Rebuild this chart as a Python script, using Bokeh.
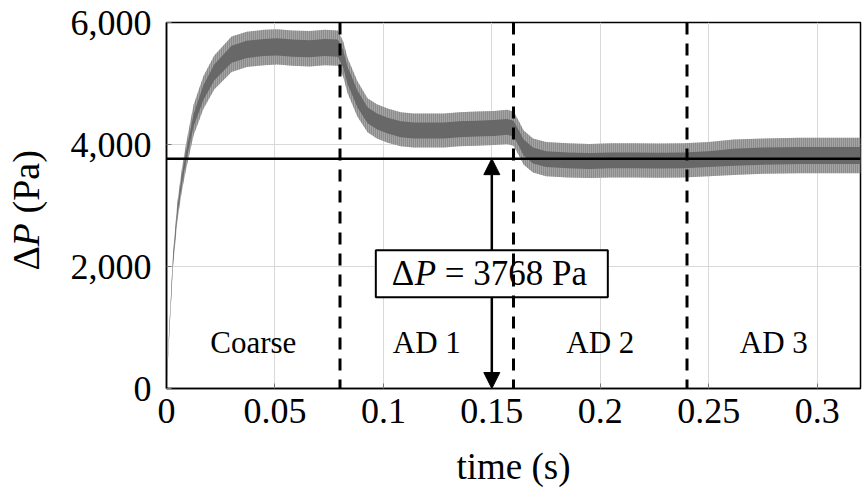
import math

from bokeh.core.properties import value
from bokeh.embed import file_html
from bokeh.layouts import row
from bokeh.models import Arrow, FixedTicker, NormalHead, NumeralTickFormatter, Span
from bokeh.plotting import figure
from bokeh.resources import INLINE

# Pressure drop trace (Pa): time samples, the dense core of the noisy signal
# and the reach of its spikes
time_s = [0.000, 0.001, 0.003, 0.005, 0.007, 0.009, 0.0125, 0.017, 0.022, 0.030,
          0.037, 0.045, 0.051, 0.058, 0.066, 0.073, 0.079, 0.0815, 0.0835, 0.088,
          0.0927, 0.097, 0.102, 0.108, 0.114, 0.121, 0.128, 0.135, 0.143, 0.151,
          0.157, 0.160, 0.1625, 0.1647, 0.169, 0.175, 0.185, 0.195, 0.205, 0.2155,
          0.227, 0.2385, 0.250, 0.2615, 0.275, 0.292, 0.305, 0.320]
core_lower = [0, 730, 2060, 2850, 3330, 3720, 4300, 4730, 5050, 5340,
              5420, 5450, 5460, 5440, 5430, 5450, 5440, 5260, 4990, 4610,
              4350, 4250, 4180, 4120, 4100, 4100, 4100, 4120, 4130, 4140,
              4160, 4130, 3970, 3820, 3690, 3630, 3610, 3600, 3610, 3610,
              3605, 3610, 3630, 3650, 3670, 3680, 3680, 3680]
core_upper = [0, 770, 2140, 2950, 3470, 3880, 4500, 4970, 5310, 5620,
              5700, 5730, 5740, 5720, 5710, 5730, 5720, 5540, 5270, 4890,
              4610, 4510, 4440, 4380, 4360, 4360, 4360, 4380, 4390, 4400,
              4420, 4390, 4230, 4080, 3950, 3890, 3870, 3860, 3870, 3870,
              3865, 3870, 3890, 3930, 3950, 3960, 3960, 3960]
spike_lower = [0, 690, 1990, 2750, 3220, 3590, 4150, 4580, 4900, 5190,
               5270, 5300, 5310, 5290, 5280, 5300, 5290, 5110, 4840, 4460,
               4200, 4100, 4030, 3970, 3950, 3950, 3950, 3970, 3980, 3990,
               4010, 3980, 3820, 3670, 3540, 3480, 3460, 3450, 3460, 3460,
               3455, 3460, 3480, 3500, 3520, 3530, 3530, 3530]
spike_upper = [0, 810, 2210, 3050, 3580, 4010, 4650, 5120, 5460, 5770,
               5850, 5880, 5890, 5870, 5860, 5880, 5870, 5690, 5420, 5040,
               4760, 4660, 4590, 4530, 4510, 4510, 4510, 4530, 4540, 4550,
               4570, 4540, 4380, 4230, 4100, 4040, 4020, 4010, 4020, 4020,
               4015, 4020, 4040, 4080, 4100, 4110, 4110, 4110]

# Mesh stages and their boundaries
stage_names = ["Coarse", "AD 1", "AD 2", "AD 3"]
stage_centers = [0.04, 0.12, 0.20, 0.28]
stage_bounds = [0.08, 0.16, 0.24]

# Converged pressure drop
dp_final = 3768

# Axis ticks
x_ticks = [0, 0.05, 0.1, 0.15, 0.2, 0.25, 0.3]
x_tick_labels = ["0", "0.05", "0.1", "0.15", "0.2", "0.25", "0.3"]
y_ticks = [0, 2000, 4000, 6000]

SERIF = "Liberation Serif"
TOP, BOTTOM = 22, 104
TITLE_W = 60

p = figure(width=867 - TITLE_W, height=492, x_range=(0, 0.32), y_range=(0, 6000),
           output_backend="svg", toolbar_location=None,
           min_border_left=166 - TITLE_W, min_border_right=7,
           min_border_top=TOP, min_border_bottom=BOTTOM)
p.background_fill_color = "white"
p.border_fill_color = "white"
p.outline_line_color = "black"
p.outline_line_width = 1.5

p.xaxis.ticker = FixedTicker(ticks=x_ticks)
p.xaxis.major_label_overrides = dict(zip(x_ticks, x_tick_labels))
p.yaxis.ticker = FixedTicker(ticks=y_ticks)
p.yaxis.formatter = NumeralTickFormatter(format="0,0")

for ax in (p.xaxis, p.yaxis):
    ax.major_label_text_font = SERIF
    ax.major_label_text_font_size = "36px"
    ax.major_label_text_color = "black"
    ax.axis_line_color = "black"
    ax.axis_line_width = 1.5
    ax.major_tick_in = 5
    ax.major_tick_out = 0
    ax.major_tick_line_color = "#777777"
    ax.minor_tick_line_color = None
p.xaxis.major_label_standoff = 10
p.yaxis.major_label_standoff = 15

p.xaxis.axis_label = "time (s)"
p.xaxis.axis_label_text_font = SERIF
p.xaxis.axis_label_text_font_size = "37px"
p.xaxis.axis_label_text_font_style = "normal"
p.xaxis.axis_label_text_color = "black"
p.xaxis.axis_label_standoff = 20

p.xgrid.grid_line_color = "#d9d9d9"
p.ygrid.grid_line_color = "#d9d9d9"
p.xgrid.grid_line_width = 1
p.ygrid.grid_line_width = 1

# Noisy pressure-drop signal: spike reach (fine vertical texture), then dense core
p.varea(x=time_s, y1=spike_lower, y2=spike_upper, fill_color="#a4a4a4", fill_alpha=1.0,
        hatch_pattern="vertical_line", hatch_color="#747474", hatch_scale=2,
        hatch_weight=1)
p.varea(x=time_s, y1=core_lower, y2=core_upper, fill_color="#686868", fill_alpha=1.0)

# Converged value and stage boundaries
p.add_layout(Span(location=dp_final, dimension="width", line_color="black", line_width=2.5))
for b in stage_bounds:
    p.add_layout(Span(location=b, dimension="height", line_color="black",
                      line_width=3, line_dash="12 9"))

# Stage names
p.text(x=stage_centers, y=[750] * len(stage_centers), text=stage_names,
       text_font=value(SERIF), text_font_size="31px", text_color="black",
       text_align="center", text_baseline="middle")

# Annotation box with double arrow
arrow_x = 0.15
box_y = 1880
box_half = 385
p.rect(x=[arrow_x], y=[box_y], width=232, height=47, width_units="screen",
       height_units="screen", fill_color="white", line_color="black", line_width=2)
p.add_layout(Arrow(x_start=arrow_x, y_start=box_y + box_half, x_end=arrow_x, y_end=dp_final,
                   line_width=2.5, line_color="black",
                   end=NormalHead(size=16, fill_color="black", line_color="black")))
p.add_layout(Arrow(x_start=arrow_x, y_start=box_y - box_half, x_end=arrow_x, y_end=0,
                   line_width=2.5, line_color="black",
                   end=NormalHead(size=16, fill_color="black", line_color="black")))

box_parts = [("Δ", "normal", -100), ("P", "italic", -77), ("= 3768 Pa", "normal", -47)]
for txt, style, dx in box_parts:
    p.text(x=[arrow_x], y=[box_y], text=[txt], x_offset=dx, text_font=value(SERIF),
           text_font_style=style, text_font_size="35px", text_color="black",
           text_align="left", text_baseline="middle")

# Narrow strip on the left holding the vertical axis title (italic P)
frame_h = 492 - TOP - BOTTOM
t = figure(width=TITLE_W, height=492, x_range=(0, TITLE_W), y_range=(0, frame_h),
           output_backend="svg", toolbar_location=None,
           min_border_left=0, min_border_right=0, min_border_top=TOP, min_border_bottom=BOTTOM)
t.axis.visible = False
t.grid.visible = False
t.outline_line_color = None
t.background_fill_color = "white"
t.border_fill_color = "white"

ylabel_parts = [("Δ", "normal", 118), ("P", "italic", 142), ("(Pa)", "normal", 175)]
for txt, style, off in ylabel_parts:
    t.text(x=[25], y=[off], text=[txt], text_font=value(SERIF), text_font_style=style,
           text_font_size="38px", text_color="black", angle=math.pi / 2,
           text_align="left", text_baseline="middle")

layout = row(t, p, spacing=0)
open("out.html", "w").write(file_html(layout, INLINE))
